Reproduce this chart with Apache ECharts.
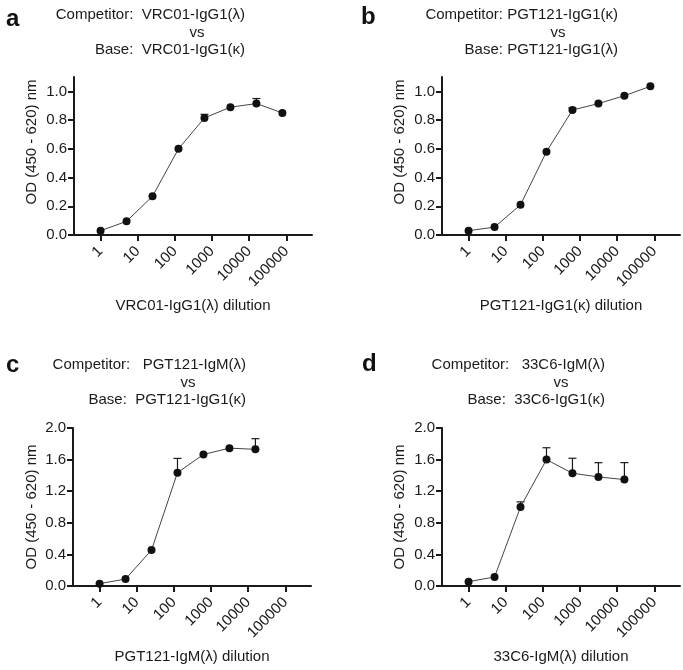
<!DOCTYPE html>
<html>
<head>
<meta charset="utf-8">
<script src="https://cdn.jsdelivr.net/npm/echarts@6/dist/echarts.min.js"></script>
<style>
  html, body { margin: 0; padding: 0; background: #fff; }
  #chart { width: 683px; height: 670px; }
</style>
</head>
<body>
<div id="chart"></div>
<script>
// dilution series (5-fold)
const dilutions = [1, 5, 25, 125, 625, 3125, 15625, 78125];
const decadeTicks = [1, 10, 100, 1000, 10000, 100000];

// OD values
const odA = [0.03, 0.095, 0.27, 0.60, 0.815, 0.89, 0.915, 0.85];
const errA = [0, 0, 0, 0, 0.025, 0, 0.035, 0];
const odB = [0.03, 0.055, 0.21, 0.58, 0.87, 0.915, 0.97, 1.035];
const errB = [0, 0, 0, 0, 0.015, 0, 0, 0];
const odC = [0.03, 0.088, 0.455, 1.435, 1.665, 1.745, 1.73];
const errC = [0, 0, 0, 0.18, 0, 0, 0.135];
const odD = [0.055, 0.114, 1.0, 1.6, 1.427, 1.381, 1.347];
const errD = [0, 0, 0.065, 0.15, 0.19, 0.18, 0.215];

const yTicksSmall = [0, 0.2, 0.4, 0.6, 0.8, 1.0];
const yTicksLarge = [0, 0.4, 0.8, 1.2, 1.6, 2.0];

const FONT = "'Liberation Sans', Arial, sans-serif";
const INK = '#1a1a1a';

const panels = [
  { letter: 'a', comp: 'Competitor:  VRC01-IgG1(λ)', base: 'Base:  VRC01-IgG1(κ)', xName: 'VRC01-IgG1(λ) dilution',
    od: odA, err: errA, yMax: 1.1, yTicks: yTicksSmall,
    grid: { left: 74, top: 77 }, titleRight: 245, vsX: 197, titleY: 14.5, letterXY: [6, 7], yNameXY: [32, 142] },
  { letter: 'b', comp: 'Competitor: PGT121-IgG1(κ)', base: 'Base: PGT121-IgG1(λ)', xName: 'PGT121-IgG1(κ) dilution',
    od: odB, err: errB, yMax: 1.1, yTicks: yTicksSmall,
    grid: { left: 442, top: 77 }, titleRight: 618, vsX: 558, titleY: 14.5, letterXY: [361, 5], yNameXY: [400, 142] },
  { letter: 'c', comp: 'Competitor:   PGT121-IgM(λ)', base: 'Base:  PGT121-IgG1(κ)', xName: 'PGT121-IgM(λ) dilution',
    od: odC, err: errC, yMax: 2.0, yTicks: yTicksLarge,
    grid: { left: 73, top: 428 }, titleRight: 246, vsX: 188, titleY: 364.5, letterXY: [6, 353], yNameXY: [32, 507] },
  { letter: 'd', comp: 'Competitor:   33C6-IgM(λ)', base: 'Base:  33C6-IgG1(κ)', xName: '33C6-IgM(λ) dilution',
    od: odD, err: errD, yMax: 2.0, yTicks: yTicksLarge,
    grid: { left: 442, top: 428 }, titleRight: 605, vsX: 561, titleY: 364.5, letterXY: [362, 352], yNameXY: [400, 507] }
];

const log10 = v => Math.log10(v);
const xTickVals = decadeTicks.map(log10);

const grids = [], xAxes = [], yAxes = [], series = [], graphics = [];

panels.forEach((p, i) => {
  grids.push({ left: p.grid.left, top: p.grid.top, width: 238, height: 158, containLabel: false, outerBoundsMode: 'none' });

  xAxes.push({
    gridIndex: i, type: 'value', min: -0.715, max: 5.69,
    name: p.xName, nameLocation: 'middle', nameGap: 63,
    nameTextStyle: { fontFamily: FONT, fontSize: 15, color: INK },
    axisLine: { onZero: false, lineStyle: { color: INK, width: 2 } },
    axisTick: { customValues: xTickVals, length: 6, lineStyle: { color: INK, width: 2 } },
    axisLabel: {
      customValues: xTickVals, rotate: 45, margin: 14, hideOverlap: false,
      fontFamily: FONT, fontSize: 15, color: INK,
      formatter: v => String(Math.round(Math.pow(10, v)))
    },
    splitLine: { show: false }
  });

  yAxes.push({
    gridIndex: i, type: 'value', min: 0, max: p.yMax,
    axisLine: { show: true, onZero: false, lineStyle: { color: INK, width: 2 } },
    axisTick: { show: true, customValues: p.yTicks, length: 6, lineStyle: { color: INK, width: 2 } },
    axisLabel: {
      customValues: p.yTicks, margin: 7,
      fontFamily: FONT, fontSize: 15, color: INK,
      formatter: v => v.toFixed(1)
    },
    splitLine: { show: false }
  });

  const pts = p.od.map((v, k) => [log10(dilutions[k]), v, p.err[k]]);

  series.push({
    type: 'custom', xAxisIndex: i, yAxisIndex: i, z: 1,
    data: pts,
    renderItem: (params, api) => {
      const e = api.value(2);
      if (!e) return null;
      const x = api.value(0), y = api.value(1);
      const p0 = api.coord([x, y]);
      const p1 = api.coord([x, y + e]);
      const st = { stroke: INK, lineWidth: 1.2 };
      return {
        type: 'group',
        children: [
          { type: 'line', shape: { x1: p0[0], y1: p0[1], x2: p1[0], y2: p1[1] }, style: st },
          { type: 'line', shape: { x1: p1[0] - 4, y1: p1[1], x2: p1[0] + 4, y2: p1[1] }, style: st }
        ]
      };
    }
  });

  series.push({
    type: 'line', xAxisIndex: i, yAxisIndex: i, z: 2,
    data: pts.map(d => [d[0], d[1]]),
    symbol: 'circle', symbolSize: 8,
    lineStyle: { color: '#444', width: 1 },
    itemStyle: { color: '#111' },
    animation: false
  });

  // panel letter
  graphics.push({
    type: 'text', left: p.letterXY[0], top: p.letterXY[1],
    style: { text: p.letter, font: 'bold 24px ' + FONT, fill: '#111' }
  });
  // three-line header
  graphics.push({
    type: 'text', x: p.titleRight, y: p.titleY,
    style: { text: p.comp, font: '15px ' + FONT, fill: INK, align: 'right', verticalAlign: 'middle' }
  });
  graphics.push({
    type: 'text', x: p.vsX, y: p.titleY + 18,
    style: { text: 'vs', font: '15px ' + FONT, fill: INK, align: 'center', verticalAlign: 'middle' }
  });
  graphics.push({
    type: 'text', x: p.titleRight, y: p.titleY + 35,
    style: { text: p.base, font: '15px ' + FONT, fill: INK, align: 'right', verticalAlign: 'middle' }
  });
  // y axis title
  graphics.push({
    type: 'text', x: p.yNameXY[0], y: p.yNameXY[1], rotation: Math.PI / 2,
    style: { text: 'OD (450 - 620) nm', font: '15px ' + FONT, fill: INK, align: 'center', verticalAlign: 'middle' }
  });
});

const chart = echarts.init(document.getElementById('chart'));
chart.setOption({
  animation: false,
  grid: grids,
  xAxis: xAxes,
  yAxis: yAxes,
  series: series,
  graphic: graphics
});
</script>
</body>
</html>
